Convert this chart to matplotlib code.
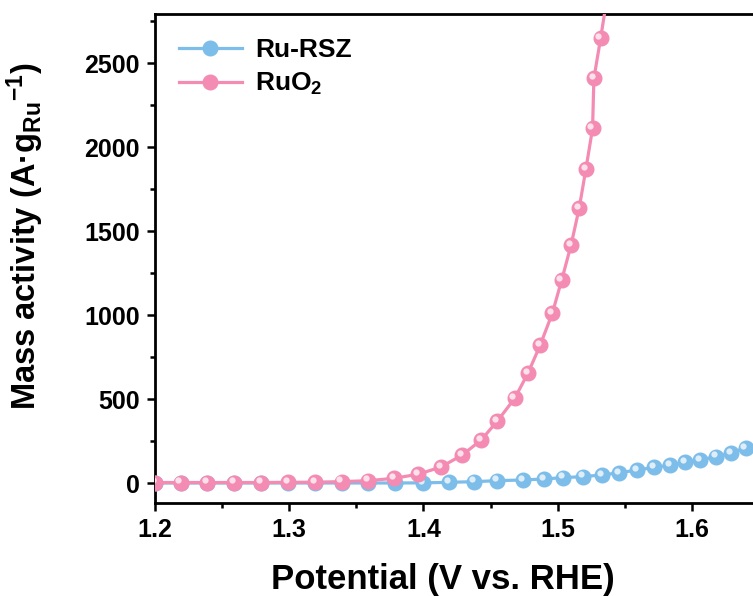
import numpy as np
import matplotlib.pyplot as plt
import matplotlib.transforms as mtransforms

plt.rcParams['font.family'] = ['Liberation Sans', 'DejaVu Sans']
plt.rcParams['font.weight'] = 'bold'
plt.rcParams['mathtext.fontset'] = 'custom'
plt.rcParams['mathtext.rm'] = 'Liberation Sans:bold'
plt.rcParams['mathtext.it'] = 'Liberation Sans:bold'
plt.rcParams['mathtext.bf'] = 'Liberation Sans:bold'

# Ru-RSZ (blue)
v_rsz = [1.200, 1.219, 1.239, 1.259, 1.279, 1.299, 1.319, 1.339, 1.359, 1.379,
         1.400, 1.419, 1.438, 1.455, 1.474, 1.490, 1.504, 1.519, 1.533, 1.546,
         1.559, 1.572, 1.584, 1.595, 1.606, 1.618, 1.629, 1.640]
ma_rsz = [0, 0, 0, 0, 0, 0, 0, 0, 0, 0,
          1, 4, 8, 14, 18, 24, 32, 38, 48, 61,
          77, 93, 107, 123, 137, 157, 177, 210]

# RuO2 (pink)
v_ruo2 = [1.200, 1.219, 1.239, 1.259, 1.279, 1.299, 1.319, 1.339, 1.359, 1.378,
          1.396, 1.413, 1.429, 1.443, 1.455, 1.468, 1.478, 1.487, 1.496, 1.503,
          1.510, 1.516, 1.521, 1.526, 1.527, 1.532, 1.536]
ma_ruo2 = [3, 3, 3, 3, 3, 4, 5, 8, 14, 28,
           52, 95, 167, 256, 368, 504, 656, 821, 1010, 1208,
           1417, 1635, 1867, 2111, 2409, 2647, 2850]

blue = '#7dbde9'
pink = '#f48bb3'

fig = plt.figure(figsize=(7.53, 5.96), dpi=100)
ax = fig.add_axes([155 / 753, 93 / 596, 604 / 753, 489 / 596])

def sphere_line(x, y, col, lab, z):
    ax.plot(x, y, '-o', color=col, lw=2.3, ms=10.5, mec=col, mfc=col,
            label=lab, zorder=z)
    hl = mtransforms.offset_copy(ax.transData, fig=fig, x=-1.6, y=1.6, units='points')
    ax.plot(x, y, 'o', ls='none', ms=4.5, mfc='white', mec='none', alpha=0.75,
            transform=hl, zorder=z + 0.5)

sphere_line(v_rsz, ma_rsz, blue, 'Ru-RSZ', 3)
sphere_line(v_ruo2, ma_ruo2, pink, r'RuO$_2$', 4)

ax.set_xlim(1.2, 1.65)
ax.set_ylim(-119, 2792)
ax.set_xticks([1.2, 1.3, 1.4, 1.5, 1.6])
ax.set_xticks(np.arange(1.25, 1.65, 0.1), minor=True)
ax.set_yticks([0, 500, 1000, 1500, 2000, 2500])
ax.set_yticks(np.arange(250, 2800, 500), minor=True)
ax.tick_params(which='major', length=6, width=1.8, labelsize=18, direction='out', pad=5)
ax.tick_params(which='minor', length=3.5, width=1.8, direction='out')
for s in ax.spines.values():
    s.set_linewidth(2.0)

ax.set_xlabel('Potential (V vs. RHE)', fontsize=25, fontweight='bold')
ax.set_ylabel(r'Mass activity (A·g$_{Ru}$$^{-1}$)', fontsize=23.5, fontweight='bold')
ax.xaxis.set_label_coords(0.477, -0.122)
ax.yaxis.set_label_coords(-0.18, 0.546)

leg = ax.legend(loc='upper left', frameon=False, fontsize=19,
                bbox_to_anchor=(0.0, 1.0), handlelength=2.4, handletextpad=0.5,
                borderaxespad=0.5, labelspacing=0.35)

fig.savefig('out.png', dpi=100)
